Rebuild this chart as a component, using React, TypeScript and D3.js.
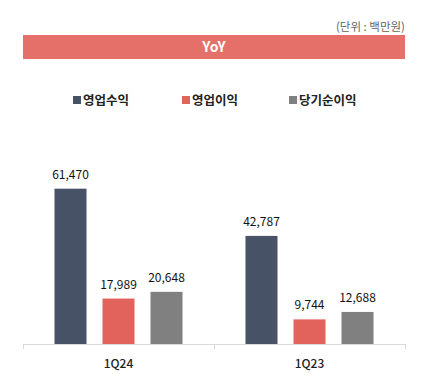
import React from "react";
import * as d3 from "d3";

const categories = ["1Q24", "1Q23"];
const seriesNames = ["영업수익", "영업이익", "당기순이익"];
const seriesColors = ["#475266", "#E2625C", "#808080"];
const revenue = [61470, 42787];
const operatingProfit = [17989, 9744];
const netIncome = [20648, 12688];

const W = 428;
const H = 385;
const FONT = "'Noto Sans CJK KR', 'Noto Sans', sans-serif";

const App = () => {
	const values = [revenue, operatingProfit, netIncome];

	// category bands span the axis, series bands inside each
	const x0 = d3.scaleBand().domain(categories).range([23, 405]).paddingInner(0).paddingOuter(0);
	const x1 = d3.scaleBand().domain(seriesNames).range([0, x0.bandwidth()]).paddingInner(0.333).paddingOuter(0.656);
	const y = d3.scaleLinear().domain([0, 61470]).range([344, 188.7]);

	const legendX = [73, 182, 289];
	const fmt = d3.format(",");

	return (
		<svg width={W} height={H} style={{ position: "absolute", left: 0, top: 0, fontFamily: FONT }}>
			<rect width={W} height={H} fill="#fff" />
			<text x={405} y={31} textAnchor="end" fontSize={11.5} fill="#666">(단위 : 백만원)</text>
			<rect x={23} y={35} width={382} height={24} fill="#E5706A" />
			<text x={214} y={52} textAnchor="middle" fontSize={14} fontWeight="bold" fill="#fff">YoY</text>

			{seriesNames.map((s, i) => (
				<g key={s}>
					<rect x={legendX[i]} y={96} width={8} height={8} fill={seriesColors[i]} />
					<text x={legendX[i] + 10} y={104.5} fontSize={12.5} fontWeight="bold" fill="#222">{s}</text>
				</g>
			))}

			{categories.map((c, ci) => (
				<g key={c} transform={`translate(${x0(c)},0)`}>
					{seriesNames.map((s, si) => {
						const v = values[si][ci];
						return (
							<g key={s}>
								<rect x={x1(s)} y={y(v)} width={x1.bandwidth()} height={344 - y(v)} fill={seriesColors[si]} />
								<text x={(x1(s) || 0) + x1.bandwidth() / 2} y={y(v) - 10} textAnchor="middle" fontSize={12} fill="#111">{fmt(v)}</text>
							</g>
						);
					})}
					<text x={x0.bandwidth() / 2} y={368} textAnchor="middle" fontSize={12} fontWeight={500} fill="#222">{c}</text>
				</g>
			))}

			<line x1={23} x2={405} y1={344.5} y2={344.5} stroke="#d9d9d9" />
			{[23, 214, 405].map((t) => (
				<line key={t} x1={t + 0.5} x2={t + 0.5} y1={344} y2={349} stroke="#d9d9d9" />
			))}
		</svg>
	);
};

export default App;
